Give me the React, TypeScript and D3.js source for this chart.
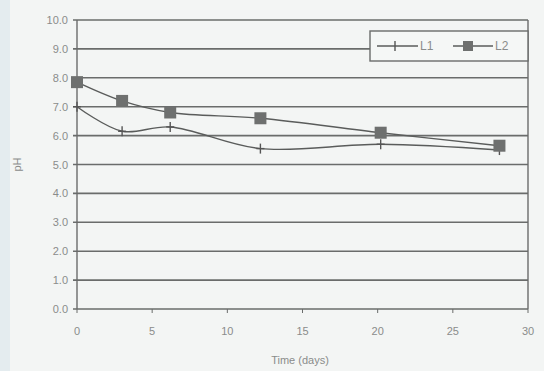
import React from "react";
import * as d3 from "d3";

const days1 = [0, 3, 6.2, 12.2, 20.2, 28.1];
const ph1 = [7.0, 6.15, 6.3, 5.55, 5.7, 5.5];
const days2 = [0, 3, 6.2, 12.2, 20.2, 28.1];
const ph2 = [7.85, 7.2, 6.8, 6.6, 6.1, 5.65];
const yTicks = [0, 1, 2, 3, 4, 5, 6, 7, 8, 9, 10];
const xTicks = [0, 5, 10, 15, 20, 25, 30];

const W = 544, H = 371;
const M = { l: 77, r: 528, t: 20, b: 309 };

export default function App() {
  const x = d3.scaleLinear().domain([0, 30]).range([M.l, M.r]);
  const y = d3.scaleLinear().domain([0, 10]).range([M.b, M.t]);
  const line = d3
    .line<[number, number]>()
    .x((d) => x(d[0]))
    .y((d) => y(d[1]))
    .curve(d3.curveCatmullRom.alpha(0.5));
  const s1 = days1.map((d, i) => [d, ph1[i]] as [number, number]);
  const s2 = days2.map((d, i) => [d, ph2[i]] as [number, number]);
  const grid = "#6a6c6b";
  const text = "#8a8c8b";
  return (
    <svg
      width={W}
      height={H}
      style={{ position: "absolute", left: 0, top: 0, background: "#f3f5f4" }}
      fontFamily="Liberation Sans, Arial, sans-serif"
    >
      <rect x={0} y={0} width={10} height={H} fill="#e4ecef" />
      {yTicks.map((t) => (
        <g key={t}>
          <line x1={M.l - 4} x2={M.r} y1={y(t)} y2={y(t)} stroke={grid} strokeWidth={1.6} />
          <text x={M.l - 9} y={y(t) + 4} textAnchor="end" fontSize={11} fill={text}>
            {t.toFixed(1)}
          </text>
        </g>
      ))}
      <line x1={M.l} x2={M.l} y1={M.t} y2={M.b} stroke={grid} strokeWidth={1.4} />
      <line x1={M.r} x2={M.r} y1={M.t} y2={M.b} stroke={grid} strokeWidth={1.4} />
      {xTicks.map((t) => (
        <g key={t}>
          <line x1={x(t)} x2={x(t)} y1={M.b} y2={M.b + 4} stroke={grid} strokeWidth={1} />
          <text x={x(t)} y={M.b + 26} textAnchor="middle" fontSize={11} fill={text}>
            {t}
          </text>
        </g>
      ))}
      <text x={300} y={364} textAnchor="middle" fontSize={11} fill={text}>
        Time (days)
      </text>
      <text
        transform={`translate(21,${y(5)}) rotate(-90)`}
        textAnchor="middle"
        fontSize={11}
        fill={text}
      >
        pH
      </text>
      <path d={line(s1) || ""} fill="none" stroke="#5a5c5b" strokeWidth={1.4} />
      <path d={line(s2) || ""} fill="none" stroke="#5a5c5b" strokeWidth={1.4} />
      {s1.map((d, i) => (
        <g key={"a" + i} stroke="#555" strokeWidth={1.4}>
          <line x1={x(d[0]) - 4} x2={x(d[0]) + 4} y1={y(d[1])} y2={y(d[1])} />
          <line x1={x(d[0])} x2={x(d[0])} y1={y(d[1]) - 5} y2={y(d[1]) + 5} />
        </g>
      ))}
      {s2.map((d, i) => (
        <rect
          key={"b" + i}
          x={x(d[0]) - 6}
          y={y(d[1]) - 6}
          width={12}
          height={12}
          fill="#6e706f"
        />
      ))}
      <g>
        <rect x={370} y={31} width={158} height={30} fill="#f5f7f6" stroke={grid} strokeWidth={1.4} />
        <line x1={377} x2={418} y1={46} y2={46} stroke="#5a5c5b" strokeWidth={1.4} />
        <line x1={395} x2={395} y1={41} y2={51} stroke="#555" strokeWidth={1.4} />
        <text x={420} y={50} fontSize={12} fill={text}>L1</text>
        <line x1={453} x2={493} y1={46} y2={46} stroke="#5a5c5b" strokeWidth={1.4} />
        <rect x={463} y={41} width={10} height={10} fill="#6e706f" />
        <text x={495} y={50} fontSize={12} fill={text}>L2</text>
      </g>
    </svg>
  );
}
